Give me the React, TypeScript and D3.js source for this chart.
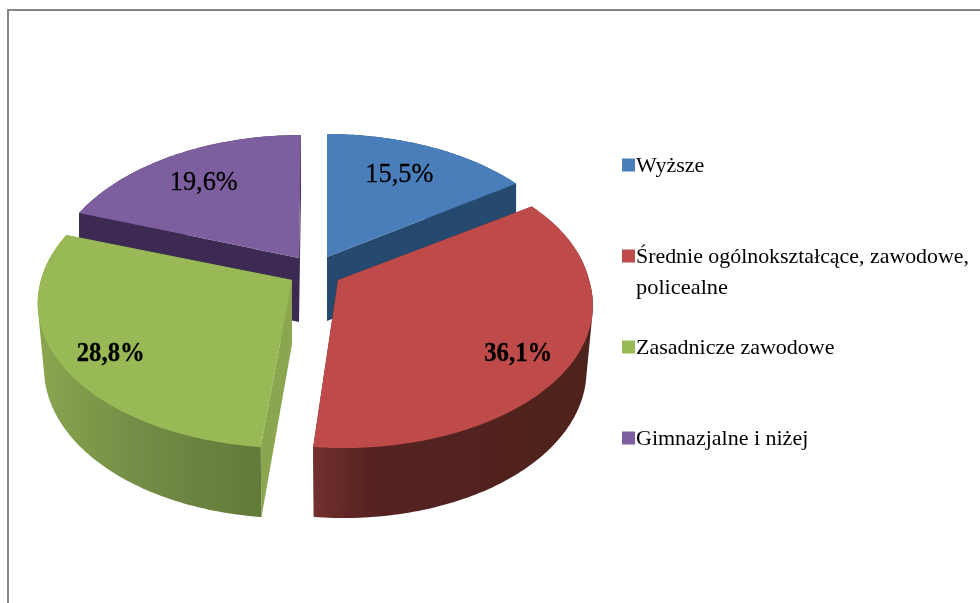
import * as d3 from "d3";

const categories = [
  "Wyższe",
  "Średnie ogólnokształcące, zawodowe, policealne",
  "Zasadnicze zawodowe",
  "Gimnazjalne i niżej",
];
const values = [15.5, 36.1, 28.8, 19.6];
const valueLabels = ["15,5%", "36,1%", "28,8%", "19,6%"];
const colors = ["#4a7ebb", "#be4b48", "#98b954", "#7d5fa0"];
const cutColors = ["#264a70", "#4e201e", "#8aa64f", "#3e2a52"];

// apex of each exploded slice on the top face
const apexes: [number, number][] = [
  [327, 257],
  [338, 280],
  [292, 280],
  [299, 258],
];
// small per-slice corrections, the original's perspective isn't a clean ellipse
const skew = [0, 5, -1.5, 2];
const rimScale = [0.99, 1, 1, 0.98];
const bottomScale = [1, 0.975, 0.975, 1];
const labelRadius = [0.68, 0.8, 0.8, 0.7];
const labelBold = [false, true, true, false];
const labelNudge: [number, number][] = [
  [0, -4],
  [-6, 12],
  [1, 9],
  [-5, 0],
];

const width = 980;
const height = 603;
const radiusX = 251;
const radiusY = 142;
const tilt = 0.155;

// perspective projection of a point in the pie's plane, relative to the apex
function project(angle: number, r: number, i: number): [number, number] {
  const px = r * Math.sin(angle);
  const py = -r * Math.cos(angle);
  const w = 1 - tilt * py;
  return [(radiusX * px * rimScale[i]) / w + skew[i] * Math.abs(py), (radiusY * py) / w];
}

function depthAt(angle: number) {
  return 64 - 6 * Math.cos(angle);
}

const line = d3.line();

export default function App() {
  const arcs = d3
    .pie<number>()
    .sort(null)
    .startAngle(0)
    .endAngle(2 * Math.PI)(values);

  // back slices first, so the front ones cover their walls
  const order = [3, 0, 2, 1];

  const slices = order.map((i) => {
    const a = arcs[i];
    const [ax, ay] = apexes[i];
    const steps = d3.range(a.startAngle, a.endAngle, Math.PI / 180).concat(a.endAngle);
    const rimTop = steps.map((t) => {
      const [x, y] = project(t, 1, i);
      return [ax + x, ay + y] as [number, number];
    });
    const rimBottom = steps.map((t, j) => {
      const x = ax + (rimTop[j][0] - ax) * bottomScale[i];
      return [x, rimTop[j][1] + depthAt(t)] as [number, number];
    });
    const apexBottom: [number, number] = [ax, ay + 64];
    const top = line([[ax, ay], ...rimTop])! + "Z";
    // hull gives the straight tangent between the top and bottom rims
    const wall = line(d3.polygonHull([...rimTop, ...rimBottom])!)! + "Z";
    const cutStart = line([[ax, ay], apexBottom, rimBottom[0], rimTop[0]])! + "Z";
    const last = steps.length - 1;
    const cutEnd = line([[ax, ay], apexBottom, rimBottom[last], rimTop[last]])! + "Z";
    const mid = (a.startAngle + a.endAngle) / 2;
    const [lx, ly] = project(mid, labelRadius[i], i);
    return {
      i,
      top,
      wall,
      cutStart,
      cutEnd,
      lx: ax + lx + labelNudge[i][0],
      ly: ay + ly + labelNudge[i][1],
    };
  });

  const legendY = d3.scaleBand<number>().domain([0, 1, 2, 3]).range([119, 483]);

  return (
    <svg
      width={width}
      height={height}
      viewBox={`0 0 ${width} ${height}`}
      style={{ position: "absolute", left: 0, top: 0, display: "block", background: "#fff" }}
    >
      <defs>
        <linearGradient id="wall-red" gradientUnits="userSpaceOnUse" x1="313" x2="590" y1="0" y2="0">
          <stop offset="0" stopColor="#73302f" />
          <stop offset="0.2" stopColor="#562321" />
          <stop offset="1" stopColor="#4e201e" />
        </linearGradient>
        <linearGradient id="wall-green" gradientUnits="userSpaceOnUse" x1="38" x2="262" y1="0" y2="0">
          <stop offset="0" stopColor="#8aa64f" />
          <stop offset="0.45" stopColor="#738c46" />
          <stop offset="1" stopColor="#627a39" />
        </linearGradient>
        {/* the reference is a soft, resampled image */}
        <filter id="soft" filterUnits="userSpaceOnUse" x="0" y="0" width={width} height={height}>
          <feGaussianBlur stdDeviation="0.5" />
        </filter>
      </defs>

      <g filter="url(#soft)">
        <path d={`M8 603V10H${width}`} fill="none" stroke="#858585" strokeWidth={2} />

        {slices.map((s) => (
          <g key={s.i}>
            <path d={s.cutStart} fill={cutColors[s.i]} />
            <path d={s.cutEnd} fill={cutColors[s.i]} />
            <path
              d={s.wall}
              fill={s.i === 1 ? "url(#wall-red)" : s.i === 2 ? "url(#wall-green)" : cutColors[s.i]}
            />
            <path d={s.top} fill={colors[s.i]} />
          </g>
        ))}

        {slices.map((s) => (
          <text
            key={s.i}
            x={s.lx}
            y={s.ly + 7}
            textAnchor="middle"
            fontFamily="'Liberation Serif', serif"
            fontSize={28}
            fontWeight={labelBold[s.i] ? "bold" : "normal"}
            textLength={68}
            lengthAdjust="spacingAndGlyphs"
            fill="#000"
            stroke="#000"
            strokeWidth={0.3}
          >
            {valueLabels[s.i]}
          </text>
        ))}

        {categories.map((c, i) => {
          const y = legendY(i)! + legendY.bandwidth() / 2;
          return (
            <g key={c}>
              <rect x={622} y={y - 6} width={13} height={13} fill={colors[i]} />
              {i === 1 ? (
                <>
                  <text x={636} y={y + 7} fontFamily="'Liberation Serif', serif" fontSize={22} fill="#000"
                    textLength={333} lengthAdjust="spacingAndGlyphs">
                    Średnie ogólnokształcące, zawodowe,
                  </text>
                  <text x={636} y={y + 38} fontFamily="'Liberation Serif', serif" fontSize={22} fill="#000"
                    textLength={92} lengthAdjust="spacingAndGlyphs">
                    policealne
                  </text>
                </>
              ) : (
                <text x={636} y={y + 7} fontFamily="'Liberation Serif', serif" fontSize={22} fill="#000">
                  {c}
                </text>
              )}
            </g>
          );
        })}
      </g>
    </svg>
  );
}
